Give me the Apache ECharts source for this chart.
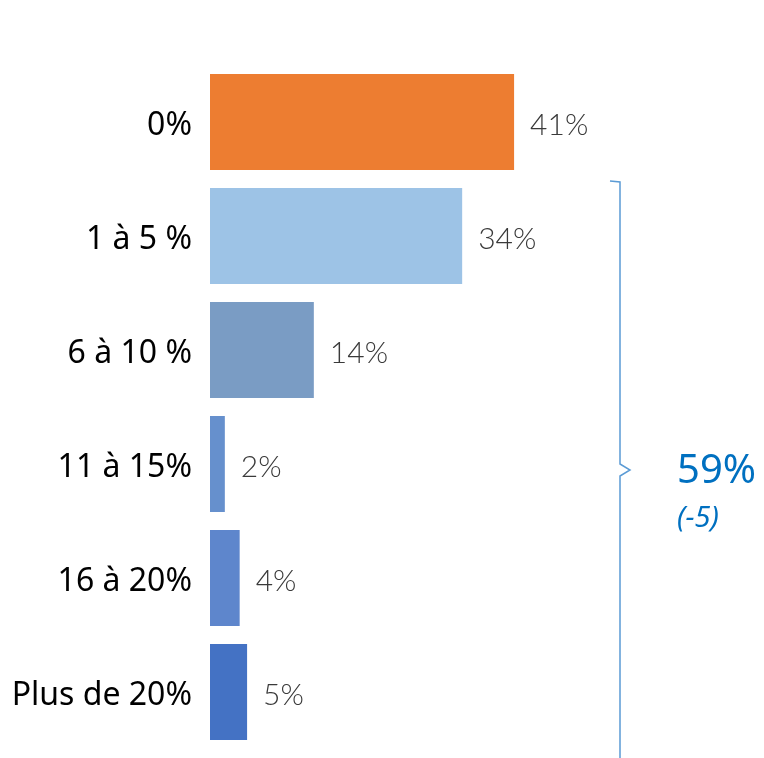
<!DOCTYPE html>
<html>
<head>
<meta charset="utf-8">
<script src="https://cdn.jsdelivr.net/npm/echarts@6/dist/echarts.min.js"></script>
<style>html,body{margin:0;padding:0;background:#fff;}#c{width:764px;height:758px;}</style>
</head>
<body>
<div id="c"></div>
<script>
const categories = ['0%', '1 à 5 %', '6 à 10 %', '11 à 15%', '16 à 20%', 'Plus de 20%'];
const values = [41, 34, 14, 2, 4, 5];
const barColors = ['#ED7D31', '#9DC3E6', '#7A9CC4', '#6690CD', '#5E86CC', '#4472C4'];
const totalLabel = '59%';
const deltaLabel = '(-5)';

const chart = echarts.init(document.getElementById('c'));
chart.setOption({
  animation: false,
  backgroundColor: '#fff',
  grid: { left: 210, top: 65, width: 445, height: 684 },
  xAxis: { type: 'value', min: 0, max: 60, show: false },
  yAxis: {
    type: 'category', inverse: true, data: categories,
    axisLine: { show: false }, axisTick: { show: false }, splitLine: { show: false },
    axisLabel: {
      margin: 18, formatter: '{c|{value}}',
      rich: { c: { fontSize: 32, color: '#000', fontFamily: 'Noto Sans', padding: [8, 0, 0, 0] } }
    }
  },
  series: [{
    type: 'bar',
    barCategoryGap: '15.8%',
    data: values.map((v, i) => ({ value: v, itemStyle: { color: barColors[i] } })),
    label: {
      show: true, position: 'right', distance: 16, formatter: '{c}%',
      fontSize: 30, color: '#3a3a3a', fontFamily: 'Lato', fontWeight: 300, offset: [0, 3]
    }
  }],
  graphic: [
    { type: 'polyline', shape: { points: [[610, 181], [620, 182], [620, 464], [630, 470], [620, 476], [620, 758]] },
      style: { stroke: '#5B9BD5', lineWidth: 1.5, fill: null } },
    { type: 'text', left: 677, top: 452, style: { text: totalLabel, fontSize: 40, fill: '#0070C0', fontFamily: 'Noto Sans' } },
    { type: 'text', left: 677, top: 504, style: { text: deltaLabel, fontSize: 29, fontStyle: 'italic', fill: '#0070C0', fontFamily: 'Noto Sans' } }
  ]
});
</script>
</body>
</html>
